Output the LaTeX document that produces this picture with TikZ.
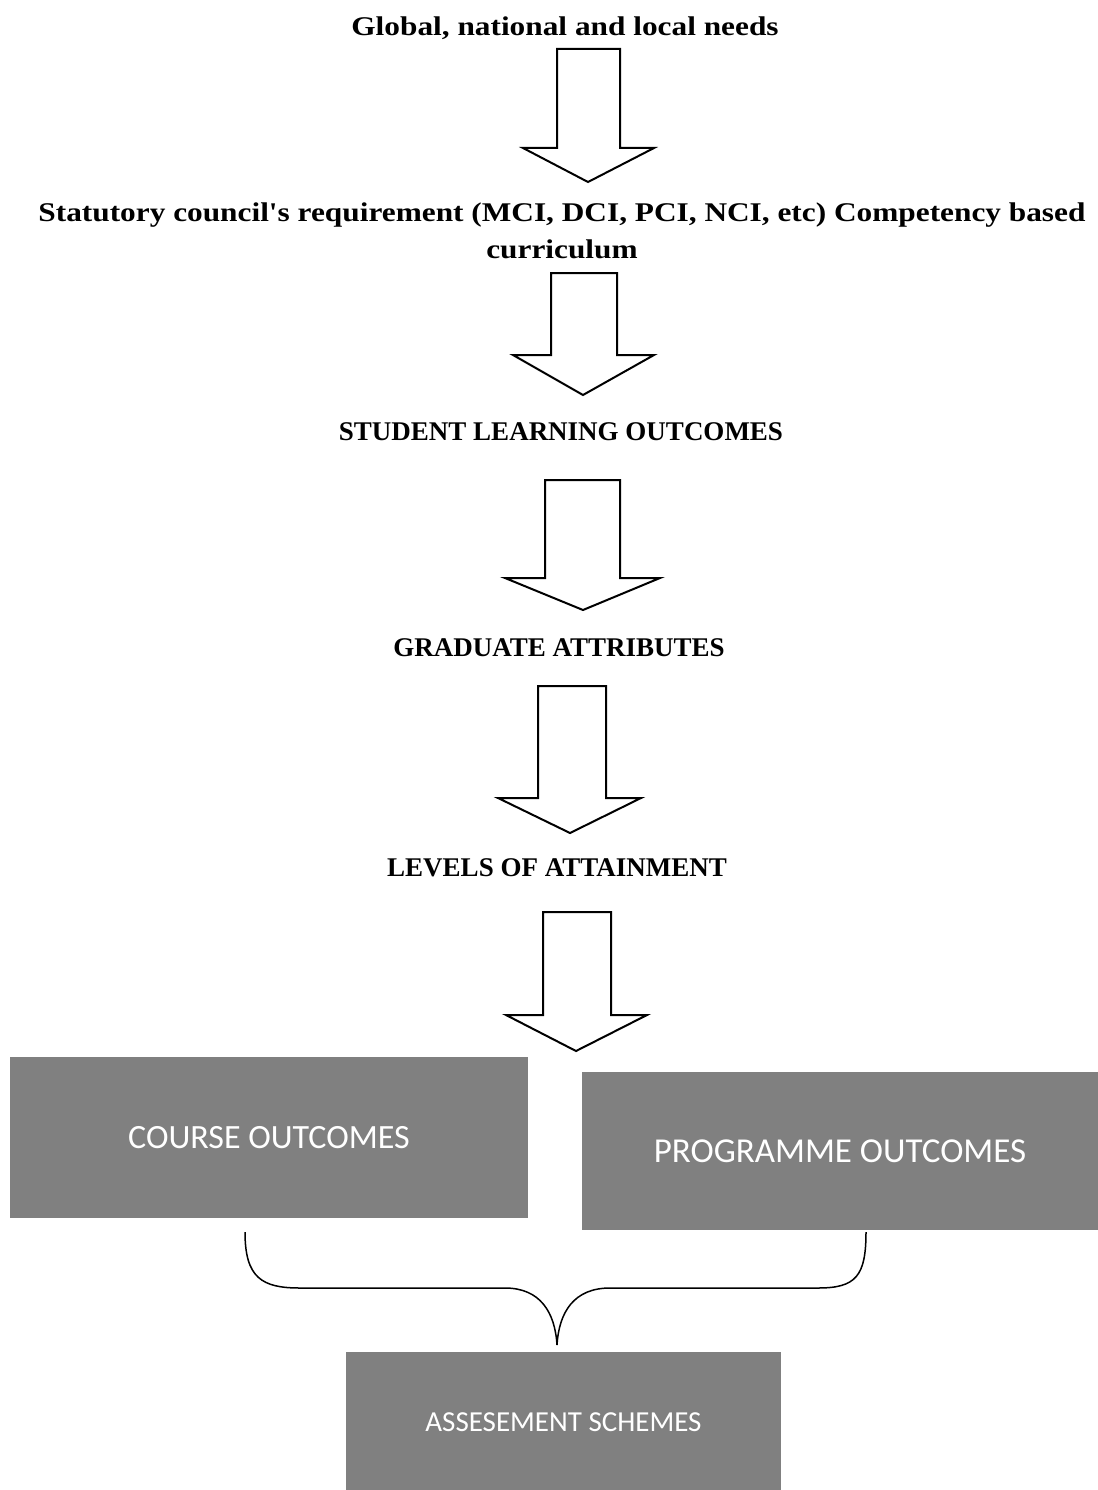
\documentclass[tikz,border=0pt]{standalone}
\usepackage{fontspec}
\setmainfont{Liberation Serif}
\newfontfamily\widefont[FakeStretch=1.16]{Liberation Serif}
\newfontfamily\boxfont{Carlito}
\definecolor{boxgray}{RGB}{128,128,128}
\begin{document}
\begin{tikzpicture}[x=1pt,y=-1pt,
  heading/.style={font=\bfseries\fontsize{27}{37}\selectfont, align=center, inner sep=0pt, anchor=center},
  wideheading/.style={font=\widefont\bfseries\fontsize{27}{37}\selectfont, align=center, inner sep=0pt, anchor=center},
  blockarrow/.style={draw=black, line width=2pt, fill=white, line join=miter},
  outbox/.style={fill=boxgray, draw=none, inner sep=0pt, text=white, font=\boxfont\fontsize{34}{40}\selectfont},
  bracket/.style={draw=black, line width=1.5pt}
]
\useasboundingbox (0,0) rectangle (1097,1490);

% headings
\node[wideheading] (h1) at (565,28) {Global, national and local needs};
\node[wideheading] (h2) at (562,231) {Statutory council's requirement (MCI, DCI, PCI, NCI, etc) Competency based\\curriculum};
\node[heading] (h3) at (561,432) {STUDENT LEARNING OUTCOMES};
\node[heading] (h4) at (559,648) {GRADUATE ATTRIBUTES};
\node[heading] (h5) at (557,868) {LEVELS OF ATTAINMENT};

% block arrows
\draw[blockarrow] (557,49) -- (620,49) -- (620,148) -- (654,148) -- (588,182) -- (523,148) -- (557,148) -- cycle;
\draw[blockarrow] (551,273) -- (617,273) -- (617,355) -- (654,355) -- (583,395) -- (513,355) -- (551,355) -- cycle;
\draw[blockarrow] (545,480) -- (620,480) -- (620,578) -- (660,578) -- (583,610) -- (505,578) -- (545,578) -- cycle;
\draw[blockarrow] (538,686) -- (606,686) -- (606,798) -- (641,798) -- (570,833) -- (498,798) -- (538,798) -- cycle;
\draw[blockarrow] (543,912) -- (611,912) -- (611,1015) -- (647,1015) -- (576,1051) -- (506,1015) -- (543,1015) -- cycle;

% outcome boxes
\node[outbox, minimum width=518pt, minimum height=161pt] (co) at (269,1137.5) {COURSE OUTCOMES};
\node[outbox, minimum width=516pt, minimum height=158pt, font=\boxfont\fontsize{35}{40}\selectfont] (po) at (840,1151) {PROGRAMME OUTCOMES};
\node[outbox, minimum width=435pt, minimum height=140pt, font=\boxfont\fontsize{29}{34}\selectfont] (as) at (563.5,1422) {ASSESEMENT SCHEMES};

% brace joining the two boxes to the assessment box
\coordinate (bl) at (245,1232);
\coordinate (br) at (866,1232);
\coordinate (bt) at (557,1345);
\draw[bracket] (bl) .. controls (245,1278) and (262,1288) .. (300,1288)
  -- (505,1288) .. controls (540,1288) and (555,1312) .. (bt)
  .. controls (559,1312) and (574,1288) .. (610,1288)
  -- (818,1288) .. controls (856,1288) and (866,1276) .. (br);
\end{tikzpicture}
\end{document}
